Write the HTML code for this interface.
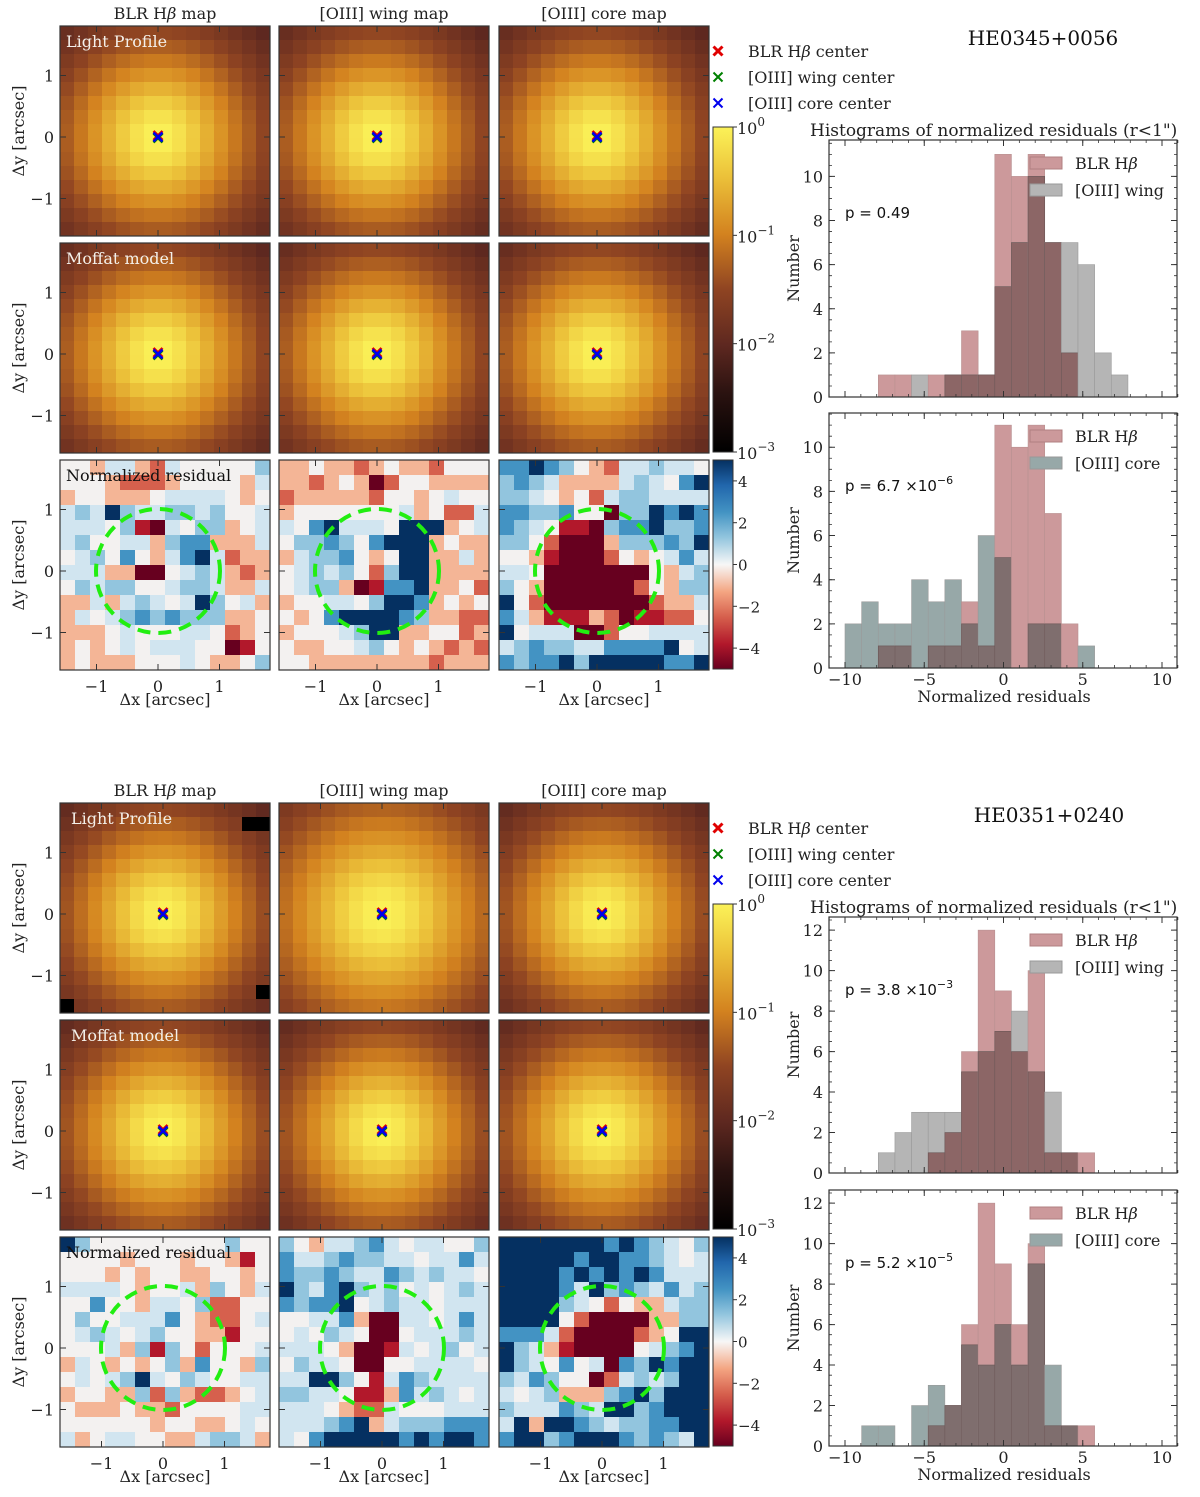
<!DOCTYPE html>
<html><head><meta charset="utf-8">
<style>
body{margin:0;background:#fff;}
svg{display:block;font-family:"DejaVu Serif","Liberation Serif",serif;}
</style></head>
<body>
<svg id="fig" width="1200" height="1497" viewBox="0 0 1200 1497" xmlns="http://www.w3.org/2000/svg">
<defs>
<linearGradient id="hotcb" x1="0" y1="1" x2="0" y2="0">
<stop offset="0" stop-color="#000000"/><stop offset="0.18" stop-color="#2a1210"/><stop offset="0.33" stop-color="#5e2820"/><stop offset="0.5" stop-color="#8f4422"/><stop offset="0.67" stop-color="#d3821f"/><stop offset="0.85" stop-color="#ecc23a"/><stop offset="1" stop-color="#fbf258"/>
</linearGradient>
<linearGradient id="rdbucb" x1="0" y1="1" x2="0" y2="0">
<stop offset="0" stop-color="#67001f"/><stop offset="0.12" stop-color="#b2182b"/><stop offset="0.25" stop-color="#d6604d"/><stop offset="0.37" stop-color="#f4a582"/><stop offset="0.5" stop-color="#f7f7f7"/><stop offset="0.63" stop-color="#92c5de"/><stop offset="0.75" stop-color="#4393c3"/><stop offset="0.88" stop-color="#2166ac"/><stop offset="1" stop-color="#053061"/>
</linearGradient>
</defs>
</svg>
<script>
// ---------------- data ----------------
const binStart = -10, binW = 1.05;
const h1_blr  = [0,0,1,1,0,1,1,3,1,11,10,11,7,2,0,0,0,0];
const h1_wing = [0,0,0,0,1,0,1,1,1,5,7,10,7,7,6,2,1,0];
const h2_blr  = [0,0,1,1,0,1,1,3,1,11,10,11,7,2,0,0];
const h2_core = [2,3,2,2,4,3,4,2,6,5,0,2,2,0,1,0];
const h3_blr  = [0,0,0,0,0,1,2,6,12,9,6,10,1,1,1,0];
const h3_wing = [0,0,1,2,3,3,3,5,6,7,8,5,4,1,0,0];
const h4_blr  = [0,0,0,0,0,1,2,6,12,9,6,10,1,1,1,0];
const h4_core = [0,1,1,0,2,3,2,5,4,6,4,9,4,1,0,0];
const xTicks = [-10,-5,0,5,10];
const pValues = ["0.49","6.7 ×10","3.8 ×10","5.2 ×10"];
const pExps = ["","−6","−3","−5"];
// Moffat-like profile widths per light map (arcsec)
const profAlpha = [0.8,0.8,0.8, 0.8,0.8,0.8, 0.8,0.95,0.8, 0.8,0.8,0.8];
// residual maps, rows top->bottom, codes 0..8 = -4..+4
const res_t1=["44355325444446","44432223444435","34433345555434","56586556656445","55546105466345","56445536773335","45647435785233","55533004565323","46566445665335","33535654586453","35456767666334","33345444554234","34345455544014","34333444543346"];
const res_t2=["33433234332444","33234302443333","23333324434544","34444444534225","54785554888345","46676478883433","35667434883353","45656426883333","45663017783342","34455468873434","43478888763322","34445688334423","43344564343232","44333333332333"];
const res_t3=["77876432556554","67653333565478","66543425665555","77667440668787","76541106778667","66420003666768","44310002434575","55400000004356","64300000024366","84200000002335","75311132011224","84555002445555","56766557777845","76778688888778"];
const res_b1=["86444444444644","44443444344314","44434344334434","55554344536435","44744355462244","46445557432245","45654564433144","44453616424445","35434346374436","45456854654455","34433626322345","43334332444455","44444434433454","53455443356653"];
const res_b2=["64355675455446","75567665545575","76676557656554","86578656454565","76778456554555","44557300554575","45465400455565","55543001545645","46554004455554","55886415765555","66554113756545","55543225444555","55567835666777","54788888787887"];
const res_b3=["88888887876546","88888788776545","88887878787555","88887586765756","88886542433566","88884200003366","77752000023488","86531000045678","86547450768788","65764402565688","54563336786888","65557658867888","58388765667788","78867888767658"];
const resPalette=["#67001f","#b2182b","#d6604d","#f4b596","#f3f1f0","#d1e5f0","#92c5de","#4393c3","#053061"];

// ---------------- helpers ----------------
const svg=document.getElementById('fig');
const NS='http://www.w3.org/2000/svg';
function mk(tag,attrs,parent){const e=document.createElementNS(NS,tag);for(const k in attrs)e.setAttribute(k,attrs[k]);(parent||svg).appendChild(e);return e;}
function txt(x,y,s,size,anchor,parent,extra){const t=mk('text',Object.assign({x:x,y:y,'font-size':size,'text-anchor':anchor||'start',fill:'#222'},extra||{}),parent);t.textContent=s;return t;}
function hotColor(l){
  const st=[[-3,[0,0,0]],[-2.46,[42,18,16]],[-2,[94,40,32]],[-1.5,[143,68,34]],[-1,[211,130,31]],[-0.45,[236,194,58]],[0,[251,242,88]]];
  l=Math.max(-3,Math.min(0,l));
  for(let i=1;i<st.length;i++){if(l<=st[i][0]){const a=st[i-1],b=st[i];const f=(l-a[0])/(b[0]-a[0]);const c=a[1].map((v,j)=>Math.round(v+(b[1][j]-v)*f));return 'rgb('+c+')';}}
  return 'rgb(251,242,88)';
}

// ---------------- image panels ----------------
const panels=[{top:26,cx:[158,377,597]},{top:803,cx:[163,382,602]}];
const colX=[60,279,499];
const pxPerArc=61.5;
const resData=[[res_t1,res_t2,res_t3],[res_b1,res_b2,res_b3]];
const colTitles=['BLR H','[OIII] wing map','[OIII] core map'];

panels.forEach((P,pi)=>{
  const rows=[P.top,P.top+217,P.top+434];
  for(let c=0;c<3;c++){
    const g=mk('g',{});
    
    
    if(c===0){const t=txt(colX[c]+105,P.top-7,'',16,'middle',g);t.innerHTML='BLR H<tspan font-style="italic">β</tspan> map';}
    else txt(colX[c]+105,P.top-7,colTitles[c],16,'middle',g);
  }
  for(let r=0;r<3;r++){
    for(let c=0;c<3;c++){
      const x0=colX[c],y0=rows[r];
      const g=mk('g',{});
      
      
      const cxp=P.cx[c], cyp=y0+111;
      if(r<2){
        const n=15,cs=14,a=profAlpha[pi*6+r*3+c];
        for(let i=0;i<n;i++)for(let j=0;j<n;j++){
          const px=x0+j*cs+cs/2, py=y0+i*cs+cs/2;
          const dx=(px-cxp)/pxPerArc, dy=(py-cyp)/pxPerArc;
          const rr=Math.sqrt(dx*dx+dy*dy);
          let v=Math.pow(1+(rr/a)*(rr/a),-2);
          if(pi===1&&r===0&&c===0&&((i===1&&j>=13)||(i===13&&j===14)||(i===14&&j===0)))v=0.001;
          mk('rect',{x:x0+j*cs,y:y0+i*cs,width:cs+0.5,height:cs+0.5,fill:hotColor(Math.log10(v))},g);
        }
        const xs=mk('g',{},g);
        
        
        [['#e00000',-1.5],['#008000',1],['#0000ee',0]].forEach(m=>{
          const s=4.5;mk('path',{d:`M${cxp-s} ${cyp-s+m[1]}L${cxp+s} ${cyp+s+m[1]}M${cxp+s} ${cyp-s+m[1]}L${cxp-s} ${cyp+s+m[1]}`,stroke:m[0],'stroke-width':2.6},xs);
        });
      } else {
        const data=resData[pi][c];const cs=15;
        data.forEach((row,i)=>{for(let j=0;j<row.length;j++){
          mk('rect',{x:x0+j*cs,y:y0+i*cs,width:cs+0.5,height:cs+0.5,fill:resPalette[+row[j]]},g);
        }});
        const circ=mk('circle',{cx:cxp,cy:cyp,r:62,fill:'none',stroke:'#22ee11','stroke-width':4,'stroke-dasharray':'13 8'},g);
        
        
      }
      mk('rect',{x:x0,y:y0,width:210,height:210,fill:'none',stroke:'#333','stroke-width':1.2},g);
      [-1,0,1].forEach(t=>{
        const tx=cxp+t*pxPerArc, ty=cyp-t*pxPerArc;
        mk('path',{d:`M${tx} ${y0+210}v-6M${tx} ${y0}v6M${x0} ${ty}h6M${x0+210} ${ty}h-6`,stroke:'#333','stroke-width':1},g);
      });
      if(c===0){ [-1,0,1].forEach(t=>{txt(x0-6,cyp-t*pxPerArc+6,t<0?'−1':String(t),16,'end',g);});
        const yl=txt(24,y0+105,'Δy [arcsec]',16,'middle',g,{transform:`rotate(-90 24 ${y0+105})`});
        }
      if(r===2){ [-1,0,1].forEach(t=>{txt(cxp+t*pxPerArc,y0+232,t<0?'−1':String(t),16,'middle',g);});
        const xl=txt(x0+105,y0+245,'Δx [arcsec]',16,'middle',g);
        }
      if(c===0){
        const lab=r===0?'Light Profile':r===1?'Moffat model':'Normalized residual';
        txt(x0+(pi===1&&r<2?11:6),y0+21,lab,16,'start',g,{fill:r===2?'#111':'#f4f0ea'});
      }
    }
  }
  const cb=mk('g',{});
  
  
  const cbTop=P.top+101, cbBot=P.top+426;
  mk('rect',{x:713,y:cbTop,width:20,height:cbBot-cbTop,fill:'url(#hotcb)',stroke:'#333','stroke-width':1},cb);
  [0,-1,-2,-3].forEach((e,k)=>{const y=cbTop+k*(cbBot-cbTop)/3;
    mk('path',{d:`M733 ${y}h4`,stroke:'#333'},cb);
    const t=txt(737,y+7,'10',16,'start',cb);const ts=mk('tspan',{dy:-8,'font-size':12},t);ts.textContent=e===0?'0':'−'+(-e);});
  const cb2=mk('g',{});
  
  
  const rTop=P.top+434, rBot=P.top+643, mid=(rTop+rBot)/2, k2=(rBot-rTop)/10;
  mk('rect',{x:713,y:rTop,width:20,height:rBot-rTop,fill:'url(#rdbucb)',stroke:'#333','stroke-width':1},cb2);
  [4,2,0,-2,-4].forEach(v=>{const y=mid-v*k2;mk('path',{d:`M733 ${y}h4`,stroke:'#333'},cb2);txt(738,y+6,v<0?'−'+(-v):String(v),15,'start',cb2);});
  const lg=mk('g',{});
  
  
  const ly=P.top+25;
  [['#e00000','BLR H','center',3],['#008000','[OIII] wing center','',2],['#0000ee','[OIII] core center','',2]].forEach((m,i)=>{
    const y=ly+i*26;const s=4.5;
    mk('path',{d:`M${718-s} ${y-s}L${718+s} ${y+s}M${718+s} ${y-s}L${718-s} ${y+s}`,stroke:m[0],'stroke-width':m[3]},lg);
    const t=txt(748,y+6,'',16,'start',lg);
    if(i===0)t.innerHTML='BLR H<tspan font-style="italic">β</tspan> center';else t.textContent=m[1];
  });
  const ttl=txt(pi===0?1043:1049,P.top+19,pi===0?'HE0345+0056':'HE0351+0240',20,'middle',null,{fill:'#111'});
  
  txt(810,P.top+110,'Histograms of normalized residuals (r<1")',17,'start');
});

// ---------------- histograms ----------------
const hists=[
 {top:140,zero:397,ymax:11.65,a:h1_blr,b:h1_wing,bc:'#b5b5b5',ov:'#8c6666',lb:'[OIII] wing',p:0,xt:false,yt:[0,2,4,6,8,10]},
 {top:413,zero:668,ymax:11.55,a:h2_blr,b:h2_core,bc:'#97a8a8',ov:'#7f6e6e',lb:'[OIII] core',p:1,xt:true,yt:[0,2,4,6,8,10]},
 {top:917,zero:1173,ymax:12.65,a:h3_blr,b:h3_wing,bc:'#b5b5b5',ov:'#8c6666',lb:'[OIII] wing',p:2,xt:false,yt:[0,2,4,6,8,10,12]},
 {top:1190,zero:1446,ymax:12.65,a:h4_blr,b:h4_core,bc:'#97a8a8',ov:'#7f6e6e',lb:'[OIII] core',p:3,xt:true,yt:[0,2,4,6,8,10,12]}
];
const X=v=>845+(v+10)*15.85;
hists.forEach((H,hi)=>{
  const g=mk('g',{});
  
  
  const Y=v=>H.zero-v*(H.zero-H.top)/H.ymax;
  const n=Math.max(H.a.length,H.b.length);
  for(let i=0;i<n;i++){
    const x0=X(binStart+i*binW),x1=X(binStart+(i+1)*binW);
    const a=H.a[i]||0,b=H.b[i]||0,m=Math.min(a,b);
    if(a>0){const r=mk('rect',{x:x0,y:Y(a),width:x1-x0,height:H.zero-Y(a),fill:'#cc999b',stroke:'#b89090','stroke-width':0.6},g);
      }
    if(b>0){const r=mk('rect',{x:x0,y:Y(b),width:x1-x0,height:H.zero-Y(b),fill:H.bc,stroke:'#9a9a9a','stroke-width':0.6},g);
      }
    if(m>0){const r=mk('rect',{x:x0,y:Y(m),width:x1-x0,height:H.zero-Y(m),fill:H.ov,stroke:'#6a5555','stroke-width':0.6},g);
      }
  }
  mk('rect',{x:829,y:H.top,width:348,height:H.zero-H.top,fill:'none',stroke:'#333','stroke-width':1.2},g);
  H.yt.forEach(v=>{const y=Y(v);mk('path',{d:`M829 ${y}h6M1177 ${y}h-6`,stroke:'#333'},g);txt(823,y+6,String(v),16,'end',g);});
  for(let v=0;v<H.ymax;v+=0.5){const y=Y(v);mk('path',{d:`M829 ${y}h3M1177 ${y}h-3`,stroke:'#333','stroke-width':0.8},g);}
  xTicks.forEach(v=>{const x=X(v);mk('path',{d:`M${x} ${H.zero}v-6M${x} ${H.top}v6`,stroke:'#333'},g);
    if(H.xt)txt(x,H.zero+17,v<0?'−'+(-v):String(v),16,'middle',g);});
  for(let v=-11;v<=11;v++){const x=X(v);mk('path',{d:`M${x} ${H.zero}v-3M${x} ${H.top}v3`,stroke:'#333','stroke-width':0.8},g);}
  const yl=txt(799,(H.top+H.zero)/2,'Number',16,'middle',g,{transform:`rotate(-90 799 ${(H.top+H.zero)/2})`});
  
  if(H.xt){const xl=txt(1004,H.zero+34,'Normalized residuals',16,'middle',g);
    }
  const lg=mk('g',{},g);
  
  
  const ly=H.top+24;
  mk('rect',{x:1030,y:ly-7,width:32,height:12,fill:'#cc999b',stroke:'#b08080'},lg);
  const t1=txt(1075,ly+5,'',16,'start',lg);t1.innerHTML='BLR H<tspan font-style="italic">β</tspan>';
  mk('rect',{x:1030,y:ly+20,width:32,height:12,fill:H.bc,stroke:'#999'},lg);
  txt(1075,ly+32,H.lb,16,'start',lg);
  const pt=txt(845,H.top+78,'p = '+pValues[H.p],15,'start',g,{'font-family':'DejaVu Sans,sans-serif',fill:'#111'});
  if(pExps[H.p]){const s=mk('tspan',{dy:-7,'font-size':11},pt);s.textContent=pExps[H.p];}
});
</script>
</body></html>
